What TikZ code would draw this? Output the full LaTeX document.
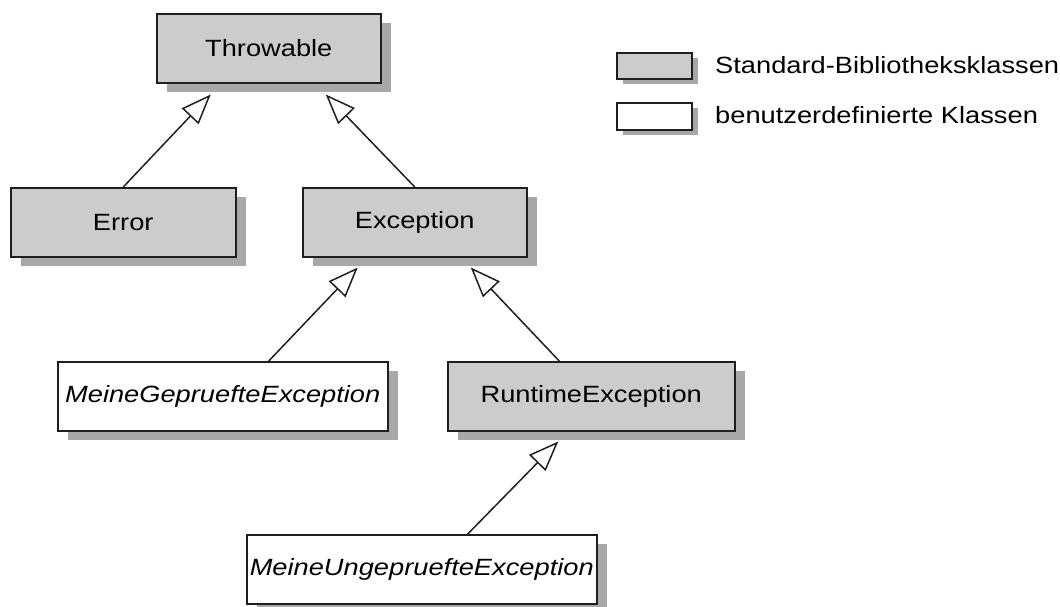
\documentclass[tikz,border=0pt]{standalone}
\usepackage{fontspec}
\setmainfont{Liberation Sans}[FakeStretch=1.16]
\usetikzlibrary{arrows.meta,shadows}
\definecolor{libfill}{gray}{0.80}
\definecolor{shadowgray}{gray}{0.66}
\definecolor{inkline}{gray}{0.12}
\tikzset{
  classbox/.style={draw=inkline, line width=1.5pt, rectangle, anchor=north west,
    inner sep=0pt, minimum height=69pt, text=black,
    font=\fontsize{23.5}{28}\selectfont,
    general shadow={fill=shadowgray, draw=none, shadow xshift=10pt, shadow yshift=-9pt}},
  libclass/.style={classbox, fill=libfill},
  userclass/.style={classbox, fill=white, font=\fontsize{23.5}{28}\selectfont\itshape},
  keybox/.style={draw=inkline, line width=1.5pt, rectangle, anchor=north west,
    inner sep=0pt, minimum width=75pt,
    general shadow={fill=shadowgray, draw=none, shadow xshift=6pt, shadow yshift=-5pt}},
  keytext/.style={anchor=west, inner sep=0pt, font=\fontsize{23.5}{28}\selectfont},
  inherits/.style={draw=inkline, line width=1.5pt,
    -{Triangle[open, length=30pt, width=23pt, fill=white, line width=1.5pt]}},
}
\begin{document}
\begin{tikzpicture}[x=1pt, y=-1pt]
\useasboundingbox (0,0) rectangle (1060,606);

% class hierarchy
\node[libclass, minimum width=224pt] (thr) at (156,13) {Throwable};
\node[libclass, minimum width=225pt] (err) at (10,187) {Error};
\node[libclass, minimum width=224pt] (exc) at (302,187) {Exception};
\node[userclass, minimum width=330pt] (gep) at (57,361) {MeineGepruefteException};
\node[libclass, minimum width=287pt] (rte) at (447,361) {RuntimeException};
\node[userclass, minimum width=350pt] (ung) at (246,534) {MeineUngepruefteException};

% generalisation arrows
\draw[inherits] (err.north) -- ([xshift=-58pt, yshift=-11pt]thr.south);
\draw[inherits] (exc.north) -- ([xshift=57pt, yshift=-11pt]thr.south);
\draw[inherits] ([xshift=46pt]gep.north) -- ([xshift=-57pt, yshift=-10pt]exc.south);
\draw[inherits] ([xshift=-32pt]rte.north) -- ([xshift=56pt, yshift=-10pt]exc.south);
\draw[inherits] ([xshift=46pt]ung.north) -- ([xshift=-33pt, yshift=-10pt]rte.south);

% key
\node[keybox, fill=libfill, minimum height=26pt] (k1) at (616,52) {};
\node[keybox, fill=white, minimum height=27pt] (k2) at (616,102) {};
\node[keytext] (t1) at (715,65) {Standard-Bibliotheksklassen};
\node[keytext] (t2) at (715,115) {benutzerdefinierte Klassen};
\end{tikzpicture}
\end{document}
